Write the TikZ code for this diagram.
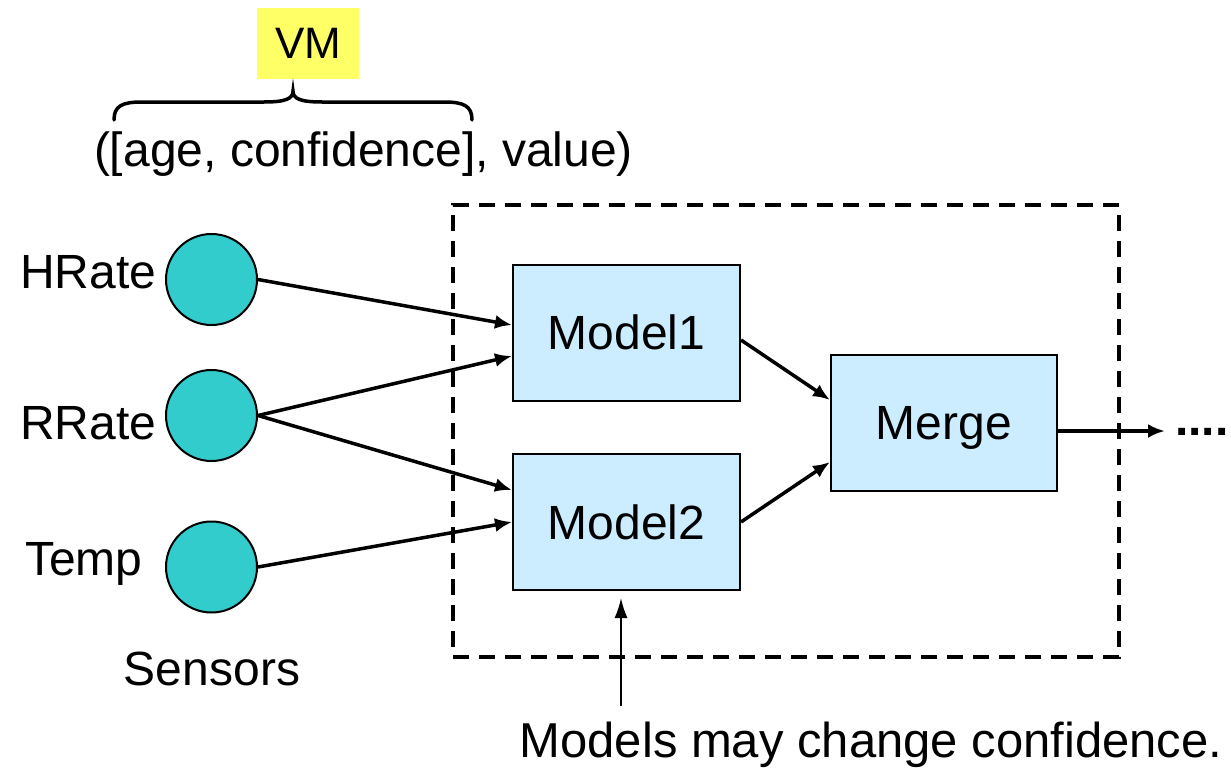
\documentclass[tikz,border=0pt]{standalone}
\usepackage{fontspec}
\setmainfont{Liberation Sans}
\usetikzlibrary{arrows.meta,calc}
\definecolor{sensorfill}{HTML}{33CCCC}
\definecolor{modelfill}{HTML}{CCECFF}
\definecolor{vmfill}{HTML}{FFFF66}
\begin{document}
\begin{tikzpicture}[x=1pt,y=-1pt,
  big/.style={font=\fontsize{48}{58}\selectfont},
  lbl/.style={big, inner sep=0pt},
  sensor/.style={circle, draw=black, line width=2pt, fill=sensorfill, minimum size=91pt, inner sep=0pt},
  model/.style={draw=black, line width=2pt, fill=modelfill, minimum width=227pt, minimum height=136pt, inner sep=0pt, text depth=0pt, big},
  flow/.style={line width=3.5pt, -{Latex[length=17pt,width=14pt]}},
  thinflow/.style={line width=1.8pt, -{Latex[length=20pt,width=13pt]}},
  groupbox/.style={draw=black, line width=3.5pt, dash pattern=on 16pt off 10pt, minimum width=666pt, minimum height=452pt},
  vmbox/.style={fill=vmfill, minimum width=102pt, minimum height=71pt, inner sep=0pt, font=\fontsize{44}{52}\selectfont},
  bracepath/.style={line width=3.5pt, line cap=round}
]
\useasboundingbox (0,0) rectangle (1231,768);
\clip (0,0) rectangle (1231,768);

% group box
\node[groupbox] (grp) at (786,431) {};

% VM and brace
\node[vmbox] (vm) at (308,43.5) {VM};
\draw[bracepath] (114,120) .. controls (114,106) and (122,102) .. (142,102) -- (264,102)
  .. controls (285,102) and (293,99) .. (293,91)
  .. controls (293,99) and (301,102) .. (322,102) -- (444,102)
  .. controls (464,102) and (472,106) .. (472,120);
\node[lbl, anchor=base] (tuple) at (363.5,166) {([age, confidence], value)};

% sensors
\node[sensor] (hr) at (211.5,279.5) {};
\node[sensor] (rr) at (211.5,415.5) {};
\node[sensor] (tp) at (211.5,567) {};
\node[lbl, anchor=base west] (hrl) at (20,288) {HRate};
\node[lbl, anchor=base west] (rrl) at (20,439) {RRate};
\node[lbl, anchor=base west] (tpl) at (25,575) {Temp};
\node[lbl, anchor=base] (sens) at (212,685) {Sensors};

% models
\node[model] (m1) at (626.5,332.5) {Model1};
\node[model] (m2) at (626.5,522) {Model2};
\node[model, minimum width=226pt] (mg) at (944,423) {Merge};

% connectors
\draw[flow] (hr.east) -- ([yshift=7.5pt]m1.west);
\draw[flow] (rr.east) -- ([yshift=-23.5pt]m1.west);
\draw[flow] (rr.east) -- ([yshift=32pt]m2.west);
\draw[flow] (tp.east) -- (m2.west);
\draw[flow] ([yshift=-7.5pt]m1.east) -- ([yshift=23pt]mg.west);
\draw[flow] (m2.east) -- ([yshift=-39pt]mg.west);
\coordinate (out) at (1165,431);
\draw[flow] ([yshift=-8pt]mg.east) -- (out);
\node[lbl, anchor=base west, font=\fontsize{48}{58}\selectfont\bfseries] (dots) at (1175,435) {....};

% annotation
\node[lbl, anchor=base, font=\fontsize{49}{58}\selectfont] (note) at (871,757) {Models may change confidence.};
\coordinate (notetop) at (621,706);
\coordinate (tip) at (621,598);
\draw[thinflow] (notetop) -- (tip);
\end{tikzpicture}
\end{document}
